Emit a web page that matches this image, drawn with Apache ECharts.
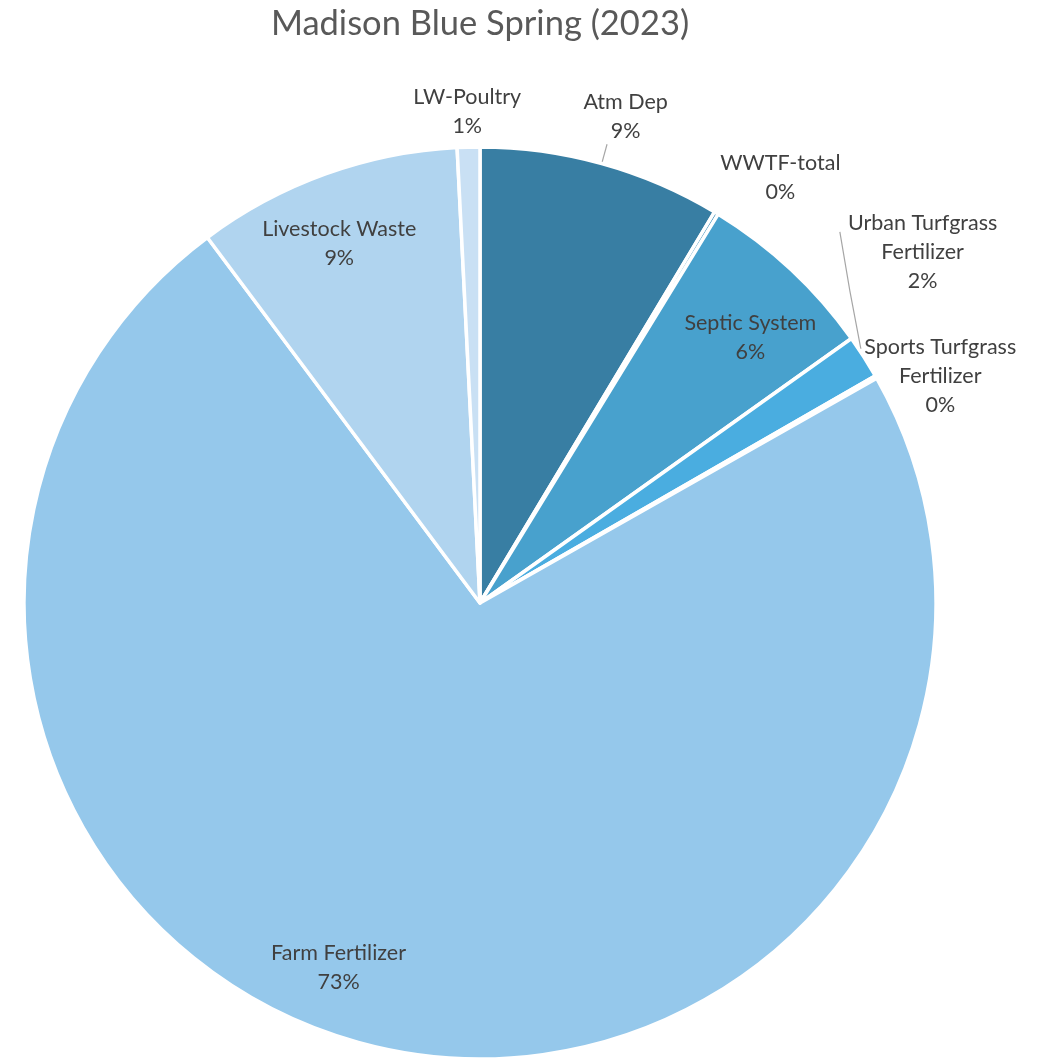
<!DOCTYPE html>
<html>
<head>
<meta charset="utf-8">
<script src="https://cdn.jsdelivr.net/npm/echarts@6/dist/echarts.min.js"></script>
<style>
  html, body { margin: 0; padding: 0; background: #fff; }
  #main { width: 1043px; height: 1058px; }
</style>
</head>
<body>
<div id="main"></div>
<script>
// source shares (percent of total)
const categories = ['Atm Dep', 'WWTF-total', 'Septic System', 'Urban Turfgrass Fertilizer',
  'Sports Turfgrass Fertilizer', 'Farm Fertilizer', 'Livestock Waste', 'LW-Poultry']
const shares = [8.6, 0.15, 6.4, 1.55, 0.1, 73.0, 9.4, 0.8]
const labelNames = ['Atm Dep', 'WWTF-total', 'Septic System', 'Urban Turfgrass\nFertilizer',
  'Sports Turfgrass\nFertilizer', 'Farm Fertilizer', 'Livestock Waste', 'LW-Poultry']
const colors = ['#387ea3', '#3f90bb', '#48a1cd', '#4aade0', '#6fbbe6', '#95c8eb', '#b0d4ef', '#c9e0f4']

// which labels sit inside the pie, which hang outside
const insideLabels = ['Septic System', 'Farm Fertilizer', 'Livestock Waste']
const leaderLines = ['Atm Dep', 'Urban Turfgrass Fertilizer']
// small nudges to mimic the spreadsheet's "best fit" label placement
const labelNudge = {
  'Atm Dep': [10, 3],
  'WWTF-total': [37, 9],
  'Urban Turfgrass Fertilizer': [15, -77],
  'Sports Turfgrass Fertilizer': [19, 25],
  'LW-Poultry': [0, 16],
  'Septic System': [7, 17],
  'Livestock Waste': [-10, 4],
  'Farm Fertilizer': [-62, -13]
}

const chart = echarts.init(document.getElementById('main'), null, { renderer: 'canvas' })

const center = [480, 603]
const R = 456
const labelFont = {
  fontFamily: 'Lato',
  fontSize: 21.5,
  lineHeight: 29,
  color: '#404040'
}

function pieData(filter) {
  return categories.map(function (name, i) {
    return {
      name: name,
      value: shares[i],
      label: { show: filter(name) }
    }
  })
}

function labelText(p) {
  return labelNames[p.dataIndex] + '\n' + Math.round(p.percent) + '%'
}

function nudge(params) {
  const d = labelNudge[categories[params.dataIndex]]
  return d ? { dx: d[0], dy: d[1] } : {}
}

const option = {
  animation: false,
  backgroundColor: '#fff',
  title: {
    text: 'Madison Blue Spring (2023)',
    left: 475,
    top: 1,
    textAlign: 'center',
    textStyle: {
      fontFamily: 'Lato',
      fontSize: 34.5,
      fontWeight: 'normal',
      color: '#595959'
    }
  },
  series: [
    {
      // the slices themselves, plus the two leader lines
      type: 'pie',
      center: center,
      radius: [0, R],
      startAngle: 90,
      clockwise: true,
      avoidLabelOverlap: false,
      silent: true,
      data: categories.map(function (name, i) {
        return {
          name: name,
          value: shares[i],
          itemStyle: { color: colors[i] },
          label: { show: leaderLines.indexOf(name) >= 0 },
          labelLine: { show: leaderLines.indexOf(name) >= 0 }
        }
      }),
      itemStyle: { borderColor: '#fff', borderWidth: 3.5 },
      label: { position: 'outside', color: 'rgba(0,0,0,0)', formatter: ' ' },
      labelLine: { length: 20, length2: 0, lineStyle: { color: '#a6a6a6', width: 1.2 } },
      labelLayout: function (params) {
        if (categories[params.dataIndex] === 'Urban Turfgrass Fertilizer' && params.labelLinePoints) {
          const p = params.labelLinePoints[0]
          return {
            labelLinePoints: [[p[0] - 3, p[1] - 8], [p[0] - 14, p[1] - 66], [p[0] - 24, p[1] - 125]]
          }
        }
        return {}
      }
    },
    {
      // labels drawn inside the slices
      type: 'pie',
      center: center,
      radius: [310, R],
      startAngle: 90,
      clockwise: true,
      silent: true,
      data: pieData(function (n) { return insideLabels.indexOf(n) >= 0 }),
      itemStyle: { color: 'rgba(0,0,0,0)', borderWidth: 0 },
      label: Object.assign({ position: 'inside', formatter: labelText }, labelFont),
      labelLine: { show: false },
      labelLayout: nudge
    },
    {
      // labels outside the pie
      type: 'pie',
      center: center,
      radius: [490, 520],
      startAngle: 90,
      clockwise: true,
      silent: true,
      data: pieData(function (n) { return insideLabels.indexOf(n) < 0 }),
      itemStyle: { color: 'rgba(0,0,0,0)', borderWidth: 0 },
      label: Object.assign({ position: 'inside', formatter: labelText }, labelFont),
      labelLine: { show: false },
      labelLayout: nudge
    }
  ]
}

chart.setOption(option)
</script>
</body>
</html>
